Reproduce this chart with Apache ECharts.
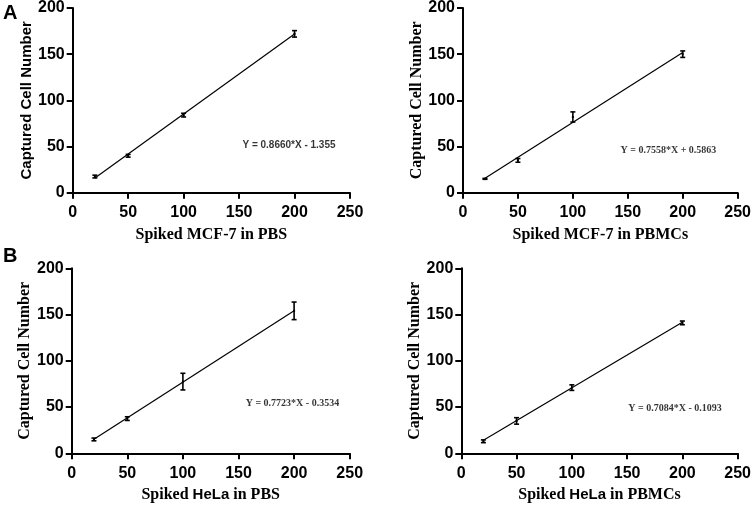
<!DOCTYPE html>
<html>
<head>
<meta charset="utf-8">
<script src="https://cdn.jsdelivr.net/npm/echarts@6/dist/echarts.min.js"></script>
<style>
html,body{margin:0;padding:0;background:#fff;}
#c{width:754px;height:506px;}
</style>
</head>
<body>
<div id="c"></div>
<script>
// ---- data ----
const spiked = [20, 50, 100, 200];
const xTicks = [0, 50, 100, 150, 200, 250];
const yTicks = [0, 50, 100, 150, 200];

const meanA = [17.5, 40, 84, 172];
const errA  = [1.5, 1.5, 2, 3.5];
const meanB = [15, 35, 82, 150];
const errB  = [0.5, 2, 5.5, 3.5];
const meanC = [15, 37.5, 77.5, 154];
const errC  = [1.5, 2, 9, 9.5];
const meanD = [13, 35, 71, 141];
const errD  = [1.5, 3.5, 3, 2];

// regression line end points (x=20 and x=200)
const fitA = [[20, 16.0], [200, 171.9]];
const fitB = [[20, 15.7], [200, 151.7]];
const fitC = [[20, 15.1], [200, 154.1]];
const fitD = [[20, 14.1], [200, 141.6]];

const eqA = 'Y = 0.8660*X - 1.355';
const eqB = 'Y = 0.7558*X + 0.5863';
const eqC = 'Y = 0.7723*X - 0.3534';
const eqD = 'Y = 0.7084*X - 0.1093';

const xNameA = 'Spiked MCF-7 in PBS';
const xNameB = 'Spiked MCF-7 in PBMCs';
const xNameC = 'Spiked {s|HeLa} in PBS';
const xNameD = 'Spiked {s|HeLa} in PBMCs';
const yName = 'Captured Cell Number';

// ---- layout / styles ----
const SANS = 'Liberation Sans, Arial, sans-serif';
const SERIF = 'Liberation Serif, Times New Roman, serif';

const panels = [
  {grid:{left:72.7, top:7.3, width:277.3, height:185.4}, mean:meanA, err:errA, fit:fitA, eq:eqA, eqPos:[195, 51], xName:xNameA, yFont:SANS, yFontSize:15, eqFont:SANS},
  {grid:{left:463, top:7.3, width:277.3, height:185.4}, mean:meanB, err:errB, fit:fitB, eq:eqB, eqPos:[187, 46], xName:xNameB, yFont:SERIF, yFontSize:16, eqFont:SERIF},
  {grid:{left:71.7, top:268.3, width:278, height:185}, mean:meanC, err:errC, fit:fitC, eq:eqC, eqPos:[198.5, 53.6], xName:xNameC, yFont:SERIF, yFontSize:16, eqFont:SERIF},
  {grid:{left:461.3, top:268.3, width:277.7, height:185}, mean:meanD, err:errD, fit:fitD, eq:eqD, eqPos:[193.4, 48.2], xName:xNameD, yFont:SERIF, yFontSize:16, eqFont:SERIF}
];

const grids = [], xAxes = [], yAxes = [], series = [];
const axisLine = {show:true, lineStyle:{color:'#000', width:2}};
const axisTick = {show:true, inside:false, length:6, lineStyle:{color:'#000', width:2}};
const tickLabel = {color:'#000', fontFamily:SANS, fontWeight:'bold', fontSize:16};

panels.forEach((p, i) => {
  grids.push(Object.assign({containLabel:false}, p.grid));
  xAxes.push({
    gridIndex:i, type:'value', min:xTicks[0], max:xTicks[xTicks.length-1], interval:xTicks[1]-xTicks[0],
    axisLine:axisLine, axisTick:axisTick, splitLine:{show:false},
    axisLabel:Object.assign({margin:12}, tickLabel),
    name:p.xName, nameLocation:'middle', nameGap:34,
    nameTextStyle:{color:'#000', fontFamily:SERIF, fontWeight:'bold', fontSize:16,
      rich:{s:{fontFamily:SANS, fontWeight:'bold', fontSize:15, color:'#000'}}}
  });
  yAxes.push({
    gridIndex:i, type:'value', min:yTicks[0], max:yTicks[yTicks.length-1], interval:yTicks[1]-yTicks[0],
    axisLine:axisLine, axisTick:axisTick, splitLine:{show:false},
    axisLabel:Object.assign({margin:8}, tickLabel),
    name:yName, nameLocation:'middle', nameGap:38, nameRotate:90,
    nameTextStyle:{color:'#000', fontFamily:p.yFont, fontWeight:'bold', fontSize:p.yFontSize}
  });
  // regression line
  series.push({
    type:'line', xAxisIndex:i, yAxisIndex:i, data:p.fit, symbol:'none',
    lineStyle:{color:'#000', width:1.2}, silent:true, animation:false, z:2
  });
  // error bars
  series.push({
    type:'custom', xAxisIndex:i, yAxisIndex:i,
    data: spiked.map((x, k) => [x, p.mean[k], p.err[k]]),
    renderItem: function(params, api){
      const x = api.value(0), m = api.value(1), e = api.value(2);
      const top = api.coord([x, m + e]);
      const bot = api.coord([x, m - e]);
      const mid = api.coord([x, m]);
      const hw = 2.5;
      const st = {stroke:'#000', lineWidth:1.6, fill:'none'};
      return {type:'group', children:[
        {type:'line', shape:{x1:top[0], y1:top[1], x2:bot[0], y2:bot[1]}, style:st},
        {type:'line', shape:{x1:top[0]-hw, y1:top[1], x2:top[0]+hw, y2:top[1]}, style:st},
        {type:'line', shape:{x1:bot[0]-hw, y1:bot[1], x2:bot[0]+hw, y2:bot[1]}, style:st},
        {type:'rect', shape:{x:mid[0]-1, y:mid[1]-1, width:2, height:2}, style:{fill:'#000'}}
      ]};
    },
    animation:false, z:3
  });
  // equation annotation
  series.push({
    type:'scatter', xAxisIndex:i, yAxisIndex:i, data:[p.eqPos], symbolSize:0, silent:true,
    label:{show:true, position:'inside', formatter:p.eq, color:'#000', fontFamily:p.eqFont, fontWeight:'bold', fontSize:10},
    animation:false
  });
});

const chart = echarts.init(document.getElementById('c'), null, {renderer:'canvas'});
chart.setOption({
  backgroundColor:'#fff',
  animation:false,
  grid:grids, xAxis:xAxes, yAxis:yAxes, series:series,
  graphic:[
    {type:'text', left:3, top:3, style:{text:'A', fontFamily:SANS, fontWeight:'bold', fontSize:20, fill:'#000'}},
    {type:'text', left:3, top:246, style:{text:'B', fontFamily:SANS, fontWeight:'bold', fontSize:20, fill:'#000'}}
  ]
});
</script>
</body>
</html>
